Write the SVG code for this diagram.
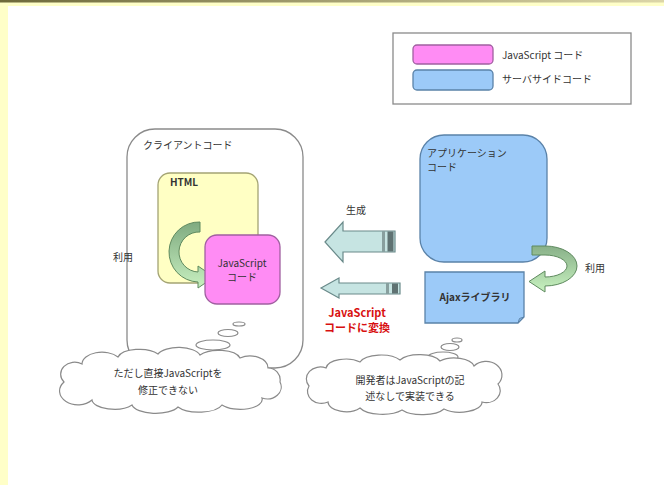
<svg xmlns="http://www.w3.org/2000/svg" width="664" height="485" viewBox="0 0 664 485">
<defs>
<linearGradient id="topband" x1="0" y1="0" x2="1" y2="0">
<stop offset="0" stop-color="#6e6a3a"/><stop offset="1" stop-color="#dcd6a8"/>
</linearGradient>
<linearGradient id="greenL" x1="0" y1="0" x2="0" y2="1">
<stop offset="0" stop-color="#7faa80"/><stop offset="1" stop-color="#c8f0c0"/>
</linearGradient>
<linearGradient id="greenR" x1="0" y1="0" x2="0" y2="1">
<stop offset="0" stop-color="#88b088"/><stop offset="1" stop-color="#c8f2c0"/>
</linearGradient>
<style>
text{font-family:"Noto Sans CJK JP","Liberation Sans",sans-serif;fill:#333;font-size:10px}
.c{text-anchor:middle}
.red{fill:#d81010;font-weight:bold;font-size:11px}
.line{fill:#fff;stroke:#8a8a8a;stroke-width:1.3}
.pink{fill:#ff8cf4;stroke:#a060a0;stroke-width:1.3}
.blue{fill:#9ccaf8;stroke:#5a82a8;stroke-width:1.3}
.fat{fill:#c6e4e2;stroke:#6a8a8a;stroke-width:1.2}
.stripe{fill:#5f7272}
.cloud{fill:#fff;stroke:#8a8a8a;stroke-width:1.2}
</style>
</defs>
<rect x="0" y="0" width="664" height="485" fill="#ffffc8"/>
<rect x="8" y="6" width="656" height="479" fill="#fff"/>
<rect x="0" y="0" width="664" height="2.5" fill="url(#topband)"/>

<g id="legend">
<rect x="393" y="33" width="238" height="71" fill="#fff" stroke="#8a8a8a" stroke-width="1.3"/>
<rect class="pink" x="413" y="45" width="80" height="19" rx="4"/>
<rect class="blue" x="413" y="70" width="80" height="20" rx="4"/>
<text x="502" y="59">JavaScript コード</text>
<text x="502" y="83">サーバサイドコード</text>
</g>

<g id="client">
<rect class="line" x="127" y="129" width="176" height="239" rx="28"/>
<text x="143" y="149">クライアントコード</text>
</g>

<g id="html">
<rect x="158" y="173" width="100" height="110" rx="12" fill="#ffffc4" stroke="#a4a474" stroke-width="1.3"/>
<text x="170" y="186" font-weight="bold">HTML</text>
</g>

<g id="use-left">
<path d="M 200 222 A 30 30 0 0 0 198 282 L 198 288 L 214 277 L 198 266 L 198 272 A 20 20 0 0 1 200 232 Z" fill="url(#greenL)" stroke="#5f8a5f" stroke-width="1"/>
<text x="113" y="261">利用</text>
</g>

<g id="jscode">
<rect class="pink" x="205" y="235" width="75" height="69" rx="12"/>
<text class="c" x="242" y="267">JavaScript</text>
<text class="c" x="242" y="281">コード</text>
</g>

<g id="appcode">
<rect class="blue" x="420" y="135" width="127" height="127" rx="24"/>
<text x="427" y="157" font-size="9.5">アプリケーション</text>
<text x="427" y="171" font-size="9.5">コード</text>
</g>

<g id="use-right">
<path d="M 532 246 L 545 246 A 32 20 0 0 1 545 286 L 545 292 L 529 281.5 L 545 271 L 545 277 A 22 11 0 0 0 545 255 L 532 255 Z" fill="url(#greenR)" stroke="#5f8a5f" stroke-width="1"/>
<text x="585" y="272">利用</text>
</g>

<g id="ajax">
<path class="blue" d="M 425 272 H 524 V 317 L 518 323 H 425 Z"/>
<path d="M 518 323 L 519.5 318.5 L 524 317" fill="none" stroke="#5a82a8" stroke-width="1"/>
<text class="c" x="475" y="301" font-weight="bold" font-size="9.5">Ajaxライブラリ</text>
</g>

<g id="connectors">
<g id="arrow-generate">
<path class="fat" d="M 325 242 L 343 222 L 343 231 L 395 231 L 395 252 L 343 252 L 343 262 Z"/>
<rect class="stripe" x="382" y="231.5" width="3" height="20" opacity="0.6"/>
<rect class="stripe" x="387.5" y="231.5" width="6" height="20"/>
<text class="c" x="356" y="214">生成</text>
</g>
<g id="arrow-convert">
<path class="fat" d="M 321 288 L 339 278 L 339 283 L 400 283 L 400 294 L 339 294 L 339 298 Z"/>
<rect class="stripe" x="386" y="283.5" width="3" height="10" opacity="0.6"/>
<rect class="stripe" x="392" y="283.5" width="6" height="10"/>
<text class="c red" x="357" y="317">JavaScript</text>
<text class="c red" x="357" y="332">コードに変換</text>
</g>
</g>

<g id="cloud-left">
<ellipse class="cloud" cx="213" cy="345" rx="17" ry="5"/>
<ellipse class="cloud" cx="228" cy="333" rx="10" ry="3.5"/>
<ellipse class="cloud" cx="239" cy="324" rx="6" ry="2"/>
<path class="cloud" d="M 64 382 A 14 12 0 0 1 82 364 A 20 12 0 0 1 118 357 A 22 10 0 0 1 158 354 A 22 10 0 0 1 200 355 A 22 10 0 0 1 240 358 A 18 12 0 0 1 268 368 A 12 12 0 0 1 280 382 A 14 12 0 0 1 262 398 A 22 10 0 0 1 222 405 A 24 10 0 0 1 178 407 A 24 10 0 0 1 132 405 A 22 10 0 0 1 92 400 A 16 12 0 0 1 64 382 Z"/>
<text class="c" x="168" y="377" font-size="11.5">ただし直接JavaScriptを</text>
<text class="c" x="168" y="394" font-size="11.5">修正できない</text>
</g>

<g id="cloud-right">
<ellipse class="cloud" cx="443" cy="357" rx="15" ry="5"/>
<ellipse class="cloud" cx="450" cy="347" rx="9" ry="3.5"/>
<ellipse class="cloud" cx="457" cy="340" rx="5" ry="2"/>
<path class="cloud" d="M 309 386 A 14 12 0 0 1 326 368 A 20 10 0 0 1 360 362 A 22 10 0 0 1 400 360 A 22 10 0 0 1 440 361 A 20 10 0 0 1 474 366 A 14 12 0 0 1 498 384 A 14 12 0 0 1 482 402 A 22 10 0 0 1 444 409 A 24 10 0 0 1 402 410 A 24 10 0 0 1 360 408 A 18 10 0 0 1 328 402 A 14 12 0 0 1 309 386 Z"/>
<text class="c" x="410" y="384" font-size="11.5">開発者はJavaScriptの記</text>
<text class="c" x="410" y="400" font-size="11.5">述なしで実装できる</text>
</g>
</svg>
